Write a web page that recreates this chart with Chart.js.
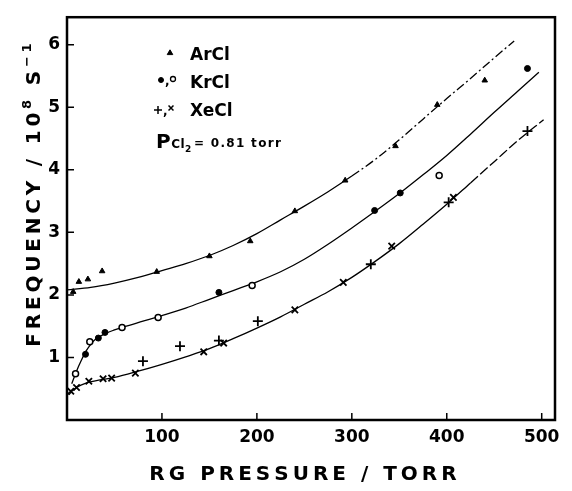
<!DOCTYPE html>
<html>
<head>
<meta charset="utf-8">
<script src="https://cdn.jsdelivr.net/npm/chart.js@4.4.1/dist/chart.umd.min.js"></script>
<style>
  html, body { margin: 0; padding: 0; background: #fff; }
  canvas { display: block; }
</style>
</head>
<body>
<canvas id="chart" width="572" height="491"></canvas>
<script>
// measured points, pressure in torr, frequency in 10^8 s^-1
const arclPressure = [6.5, 12.5, 22, 37, 94.5, 150, 193, 240, 293, 346, 390, 440]
const arclFreq = [2.05, 2.21, 2.25, 2.38, 2.37, 2.62, 2.86, 3.34, 3.83, 4.38, 5.04, 5.43]

const krclFilledPressure = [19.5, 33, 40, 160, 324, 351, 485]
const krclFilledFreq = [1.05, 1.31, 1.40, 2.04, 3.35, 3.63, 5.62]
const krclOpenPressure = [9, 24, 58, 96, 195, 392]
const krclOpenFreq = [0.74, 1.25, 1.48, 1.64, 2.15, 3.91]

const xeclPlusPressure = [80, 119, 160, 201, 320, 402, 485]
const xeclPlusFreq = [0.94, 1.18, 1.27, 1.58, 2.49, 3.48, 4.62]
const xeclCrossPressure = [4, 10, 23, 38, 47, 72, 144, 165, 240, 291, 342, 407]
const xeclCrossFreq = [0.46, 0.52, 0.62, 0.66, 0.67, 0.75, 1.09, 1.23, 1.76, 2.20, 2.78, 3.56]

// hand drawn fit curves
const arclCurvePressure = [0, 25, 50, 75, 100, 125, 150, 175, 200, 225, 250, 275, 300, 325, 350, 375, 400, 425, 450, 471]
const arclCurveFreq = [2.08, 2.12, 2.19, 2.28, 2.39, 2.50, 2.63, 2.79, 2.98, 3.20, 3.42, 3.65, 3.90, 4.17, 4.48, 4.81, 5.14, 5.46, 5.79, 6.06]

const krclCurvePressure = [5, 10, 15, 20, 25, 30, 40, 50, 60, 80, 100, 125, 150, 175, 200, 225, 250, 275, 300, 325, 350, 375, 400, 425, 450, 475, 497]
const krclCurveFreq = [0.58, 0.78, 0.95, 1.10, 1.21, 1.29, 1.38, 1.44, 1.49, 1.58, 1.67, 1.79, 1.93, 2.07, 2.21, 2.37, 2.57, 2.81, 3.07, 3.34, 3.62, 3.92, 4.23, 4.57, 4.92, 5.26, 5.56]

const xeclCurvePressure = [2, 5, 10, 20, 35, 50, 75, 100, 125, 150, 175, 200, 225, 250, 275, 300, 325, 350, 375, 400, 425, 450, 475, 502]
const xeclCurveFreq = [0.40, 0.46, 0.52, 0.59, 0.64, 0.68, 0.78, 0.89, 1.01, 1.14, 1.30, 1.47, 1.65, 1.85, 2.05, 2.28, 2.54, 2.82, 3.13, 3.45, 3.79, 4.13, 4.47, 4.80]

const pressureTicks = [100, 200, 300, 400, 500]
const freqTicks = [1, 2, 3, 4, 5, 6]

const xyPairs = (xs, ys) => xs.map((x, i) => ({ x, y: ys[i] }))

const FONT = '"DejaVu Sans", sans-serif'

const runsWidth = (ctx, runs, spacing) => {
  let total = 0
  runs.forEach((r) => {
    ctx.font = `bold ${r.size}px ${FONT}`
    for (const ch of r.text) total += ctx.measureText(ch).width + spacing
  })
  return total - spacing
}

// draws text runs with letter spacing; align 'center' or 'left' at (px, baseline py)
const drawRuns = (ctx, runs, px, py, spacing, angle, align = 'center') => {
  ctx.save()
  ctx.translate(px, py)
  ctx.rotate(angle)
  ctx.textAlign = 'left'
  ctx.textBaseline = 'alphabetic'
  ctx.fillStyle = '#000'
  let x = align === 'center' ? -runsWidth(ctx, runs, spacing) / 2 : 0
  runs.forEach((r) => {
    ctx.font = `bold ${r.size}px ${FONT}`
    for (const ch of r.text) {
      ctx.fillText(ch, x, r.dy || 0)
      x += ctx.measureText(ch).width + spacing
    }
  })
  ctx.restore()
}

const framePlugin = {
  id: 'frame',
  afterDatasetsDraw(chart) {
    const { ctx, chartArea: a, scales: { x, y } } = chart
    ctx.save()
    ctx.strokeStyle = '#000'
    ctx.lineWidth = 2.5
    ctx.strokeRect(a.left, a.top, a.right - a.left, a.bottom - a.top)
    ctx.lineWidth = 1.5
    ctx.beginPath()
    pressureTicks.forEach((v) => {
      const px = x.getPixelForValue(v)
      ctx.moveTo(px, a.bottom)
      ctx.lineTo(px, a.bottom - 7)
    })
    freqTicks.forEach((v) => {
      const py = y.getPixelForValue(v)
      ctx.moveTo(a.left, py)
      ctx.lineTo(a.left + 7, py)
    })
    ctx.stroke()
    ctx.restore()
  },
  afterDraw(chart) {
    const { ctx } = chart
    // axis titles
    drawRuns(ctx, [{ text: 'RG PRESSURE / TORR', size: 20 }], 303, 480, 4, 0)
    drawRuns(ctx, [
      { text: 'FREQUENCY / 10', size: 20 },
      { text: '8', size: 13, dy: -9 },
      { text: ' S', size: 20 },
      { text: '−1', size: 13, dy: -9 },
    ], 40, 195, 3.8, -Math.PI / 2)

    // legend inside the plot
    const dp = Chart.helpers.drawPoint
    ctx.save()
    ctx.fillStyle = '#000'
    ctx.strokeStyle = '#000'
    ctx.lineWidth = 1
    dp(ctx, { pointStyle: 'triangle', radius: 3.2, borderWidth: 1 }, 170, 53)
    dp(ctx, { pointStyle: 'circle', radius: 2.5, borderWidth: 1 }, 161, 80)
    ctx.fillStyle = '#fff'
    ctx.lineWidth = 1.3
    dp(ctx, { pointStyle: 'circle', radius: 2.5, borderWidth: 1.3 }, 173, 79)
    ctx.lineWidth = 1.5
    dp(ctx, { pointStyle: 'cross', radius: 4, borderWidth: 1.5 }, 158, 110)
    dp(ctx, { pointStyle: 'crossRot', radius: 3.5, borderWidth: 1.5 }, 171, 108)
    ctx.fillStyle = '#000'
    ctx.textAlign = 'left'
    ctx.textBaseline = 'alphabetic'
    ctx.font = `bold 12px ${FONT}`
    ctx.fillText(',', 165, 85)
    ctx.fillText(',', 163, 115)
    ctx.font = `bold 17px ${FONT}`
    ctx.fillText('ArCl', 190, 60)
    ctx.fillText('KrCl', 190, 88)
    ctx.fillText('XeCl', 190, 116)
    ctx.restore()
    drawRuns(ctx, [
      { text: 'P', size: 20 },
      { text: 'Cl', size: 12, dy: 0 },
      { text: '2', size: 9, dy: 4 },
    ], 156, 148, 0.5, 0, 'left')
    drawRuns(ctx, [{ text: '= 0.81 torr', size: 12 }], 194, 147, 1.3, 0, 'left')
  },
}

const curve = (xs, ys, dashFrom, dash) => ({
  data: xyPairs(xs, ys),
  showLine: true,
  borderColor: '#000',
  borderWidth: 1.3,
  pointRadius: 0,
  cubicInterpolationMode: 'monotone',
  segment: {
    borderDash: (c) => (c.p0.parsed.x >= dashFrom ? dash : undefined),
  },
})

const tickFont = { family: FONT, size: 17, weight: 'bold' }

new Chart(document.getElementById('chart'), {
  type: 'scatter',
  data: {
    datasets: [
      {
        label: 'ArCl',
        data: xyPairs(arclPressure, arclFreq),
        pointStyle: 'triangle',
        pointRadius: 3.2,
        backgroundColor: '#000',
        borderColor: '#000',
        borderWidth: 1,
      },
      {
        label: 'KrCl',
        data: xyPairs(krclFilledPressure, krclFilledFreq),
        pointStyle: 'circle',
        pointRadius: 3,
        backgroundColor: '#000',
        borderColor: '#000',
        borderWidth: 1,
      },
      {
        label: 'KrCl open',
        data: xyPairs(krclOpenPressure, krclOpenFreq),
        pointStyle: 'circle',
        pointRadius: 3,
        backgroundColor: '#fff',
        borderColor: '#000',
        borderWidth: 1.5,
      },
      {
        label: 'XeCl',
        data: xyPairs(xeclPlusPressure, xeclPlusFreq),
        pointStyle: 'cross',
        pointRadius: 5,
        borderColor: '#000',
        borderWidth: 1.8,
      },
      {
        label: 'XeCl x',
        data: xyPairs(xeclCrossPressure, xeclCrossFreq),
        pointStyle: 'crossRot',
        pointRadius: 4.5,
        borderColor: '#000',
        borderWidth: 1.8,
      },
      curve(arclCurvePressure, arclCurveFreq, 300, [9, 3, 2, 3]),
      curve(krclCurvePressure, krclCurveFreq, 1000, [1]),
      curve(xeclCurvePressure, xeclCurveFreq, 425, [10, 3]),
    ],
  },
  options: {
    responsive: false,
    animation: false,
    events: [],
    layout: { padding: { top: 11, right: 17, left: 0, bottom: 0 } },
    plugins: {
      legend: { display: false },
      tooltip: { enabled: false },
    },
    scales: {
      x: {
        type: 'linear',
        min: 0,
        max: 514,
        afterBuildTicks: (s) => { s.ticks = pressureTicks.map((v) => ({ value: v })) },
        afterFit: (s) => { s.height = 71 },
        ticks: { font: tickFont, color: '#000', padding: 7, maxRotation: 0, autoSkip: false },
        grid: { display: false, drawTicks: false },
        border: { display: false },
      },
      y: {
        type: 'linear',
        min: 0,
        max: 6.44,
        afterBuildTicks: (s) => { s.ticks = freqTicks.map((v) => ({ value: v })) },
        afterFit: (s) => { s.width = 67 },
        ticks: { font: tickFont, color: '#000', padding: 7, autoSkip: false },
        grid: { display: false, drawTicks: false },
        border: { display: false },
      },
    },
  },
  plugins: [framePlugin],
})
</script>
</body>
</html>
